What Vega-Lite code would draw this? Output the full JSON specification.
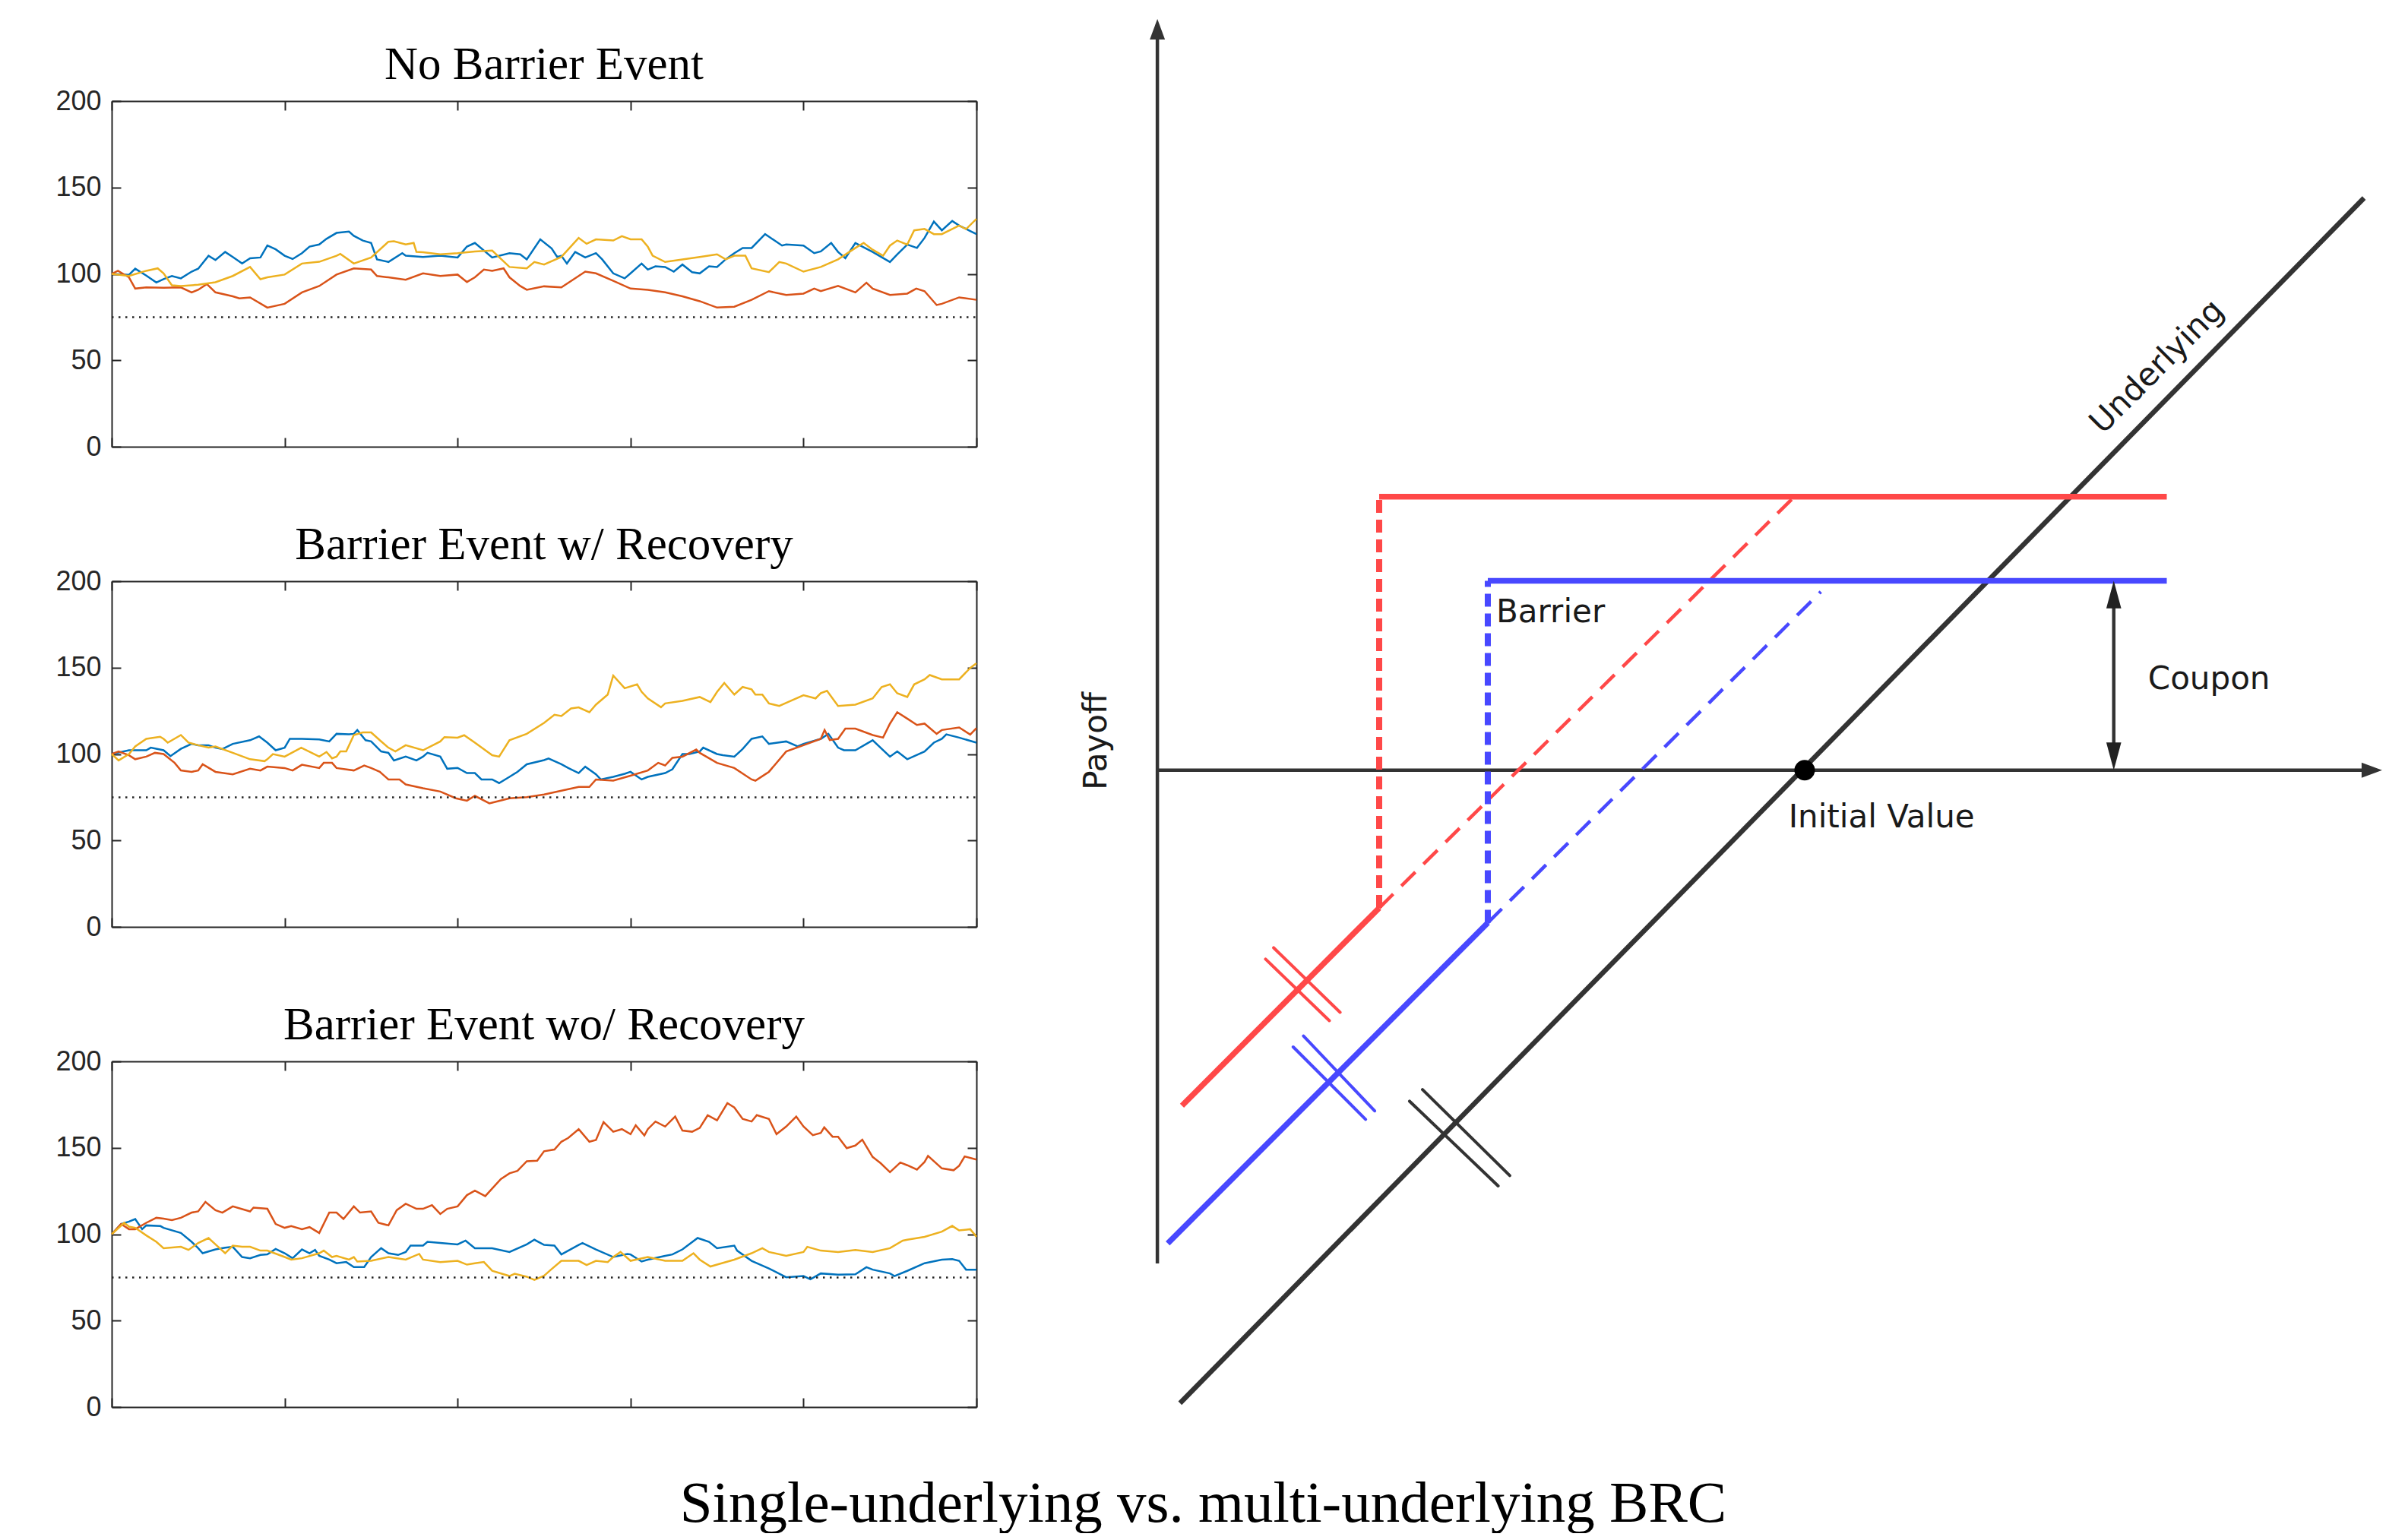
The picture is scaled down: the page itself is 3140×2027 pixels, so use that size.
{
"$schema": "https://vega.github.io/schema/vega-lite/v6.json",
"background": "white",
"padding": {"left": 72, "top": 24, "right": 0, "bottom": 0},
"bounds": "flush",
"spacing": 1274,
"title": {"text": "Single-underlying vs. multi-underlying BRC", "orient": "bottom", "anchor": "middle", "font": "Liberation Serif", "fontSize": 77, "fontWeight": "normal", "color": "#000000", "baseline": "top", "offset": 72, "dx": -23},
"datasets": {
"paths": [
{"p":1,"s":"A","t":0,"v":100},{"p":1,"s":"A","t":5,"v":99.5},{"p":1,"s":"A","t":6.8,"v":103},{"p":1,"s":"A","t":10,"v":99},{"p":1,"s":"A","t":12.9,"v":95},{"p":1,"s":"A","t":15,"v":97},{"p":1,"s":"A","t":17.4,"v":98.8},{"p":1,"s":"A","t":20,"v":97.4},{"p":1,"s":"A","t":23.1,"v":101.3},{"p":1,"s":"A","t":25,"v":103},{"p":1,"s":"A","t":28,"v":110.5},{"p":1,"s":"A","t":30,"v":108},{"p":1,"s":"A","t":32.8,"v":112.7},{"p":1,"s":"A","t":35,"v":109.8},{"p":1,"s":"A","t":37.7,"v":106},{"p":1,"s":"A","t":40,"v":109},{"p":1,"s":"A","t":43,"v":109.5},{"p":1,"s":"A","t":45,"v":116.4},{"p":1,"s":"A","t":47.4,"v":114.2},{"p":1,"s":"A","t":50,"v":110.5},{"p":1,"s":"A","t":52.3,"v":108.6},{"p":1,"s":"A","t":55,"v":112},{"p":1,"s":"A","t":57.2,"v":115.8},{"p":1,"s":"A","t":60,"v":117},{"p":1,"s":"A","t":62.1,"v":120.3},{"p":1,"s":"A","t":65,"v":123.7},{"p":1,"s":"A","t":68.6,"v":124.5},{"p":1,"s":"A","t":70,"v":122},{"p":1,"s":"A","t":72.6,"v":119.3},{"p":1,"s":"A","t":75,"v":117.9},{"p":1,"s":"A","t":76.7,"v":108.4},{"p":1,"s":"A","t":80,"v":106.9},{"p":1,"s":"A","t":84,"v":112},{"p":1,"s":"A","t":85,"v":110.5},{"p":1,"s":"A","t":90,"v":109.8},{"p":1,"s":"A","t":95,"v":110.5},{"p":1,"s":"A","t":100,"v":109.5},{"p":1,"s":"A","t":102.7,"v":115.8},{"p":1,"s":"A","t":105,"v":117.9},{"p":1,"s":"A","t":110,"v":109.5},{"p":1,"s":"A","t":115,"v":112},{"p":1,"s":"A","t":118.1,"v":111.3},{"p":1,"s":"A","t":120,"v":108.4},{"p":1,"s":"A","t":123.9,"v":120},{"p":1,"s":"A","t":127.2,"v":114.7},{"p":1,"s":"A","t":128.8,"v":109.8},{"p":1,"s":"A","t":130,"v":110.5},{"p":1,"s":"A","t":131.6,"v":106},{"p":1,"s":"A","t":134,"v":112.7},{"p":1,"s":"A","t":136.9,"v":109.5},{"p":1,"s":"A","t":140,"v":112},{"p":1,"s":"A","t":141.8,"v":108.4},{"p":1,"s":"A","t":145,"v":100.3},{"p":1,"s":"A","t":148.3,"v":97.4},{"p":1,"s":"A","t":150,"v":100.3},{"p":1,"s":"A","t":153.2,"v":106},{"p":1,"s":"A","t":155,"v":102.5},{"p":1,"s":"A","t":157.2,"v":104.4},{"p":1,"s":"A","t":160,"v":104},{"p":1,"s":"A","t":162.5,"v":101.3},{"p":1,"s":"A","t":165,"v":105.4},{"p":1,"s":"A","t":167.8,"v":101},{"p":1,"s":"A","t":170,"v":100.3},{"p":1,"s":"A","t":172.7,"v":104.4},{"p":1,"s":"A","t":175,"v":104},{"p":1,"s":"A","t":177.5,"v":108.4},{"p":1,"s":"A","t":180,"v":112},{"p":1,"s":"A","t":182.4,"v":115},{"p":1,"s":"A","t":185,"v":115},{"p":1,"s":"A","t":188.9,"v":123},{"p":1,"s":"A","t":190,"v":121.5},{"p":1,"s":"A","t":193.8,"v":116.4},{"p":1,"s":"A","t":195,"v":117},{"p":1,"s":"A","t":200,"v":116.4},{"p":1,"s":"A","t":203.1,"v":112},{"p":1,"s":"A","t":205,"v":113},{"p":1,"s":"A","t":208,"v":117.9},{"p":1,"s":"A","t":210,"v":112.7},{"p":1,"s":"A","t":212.1,"v":109.1},{"p":1,"s":"A","t":215,"v":117.9},{"p":1,"s":"A","t":220,"v":112.7},{"p":1,"s":"A","t":225,"v":106.9},{"p":1,"s":"A","t":227.1,"v":111.3},{"p":1,"s":"A","t":230,"v":117},{"p":1,"s":"A","t":232.8,"v":115},{"p":1,"s":"A","t":235,"v":120.8},{"p":1,"s":"A","t":237.7,"v":130.3},{"p":1,"s":"A","t":240,"v":125.2},{"p":1,"s":"A","t":243,"v":130.6},{"p":1,"s":"A","t":245,"v":128},{"p":1,"s":"A","t":248.2,"v":124.8},{"p":1,"s":"A","t":250,"v":123},
{"p":1,"s":"B","t":0,"v":100},{"p":1,"s":"B","t":1.8,"v":101.8},{"p":1,"s":"B","t":5,"v":98},{"p":1,"s":"B","t":6.8,"v":91.5},{"p":1,"s":"B","t":10,"v":92.2},{"p":1,"s":"B","t":15,"v":92},{"p":1,"s":"B","t":20,"v":92.2},{"p":1,"s":"B","t":23.1,"v":89.3},{"p":1,"s":"B","t":25,"v":90.8},{"p":1,"s":"B","t":27.5,"v":94.1},{"p":1,"s":"B","t":30,"v":89.3},{"p":1,"s":"B","t":35,"v":87},{"p":1,"s":"B","t":36.9,"v":85.8},{"p":1,"s":"B","t":40,"v":86.4},{"p":1,"s":"B","t":45,"v":80.5},{"p":1,"s":"B","t":50,"v":82.7},{"p":1,"s":"B","t":55,"v":89.3},{"p":1,"s":"B","t":60,"v":93},{"p":1,"s":"B","t":65,"v":99.6},{"p":1,"s":"B","t":70,"v":103.2},{"p":1,"s":"B","t":75,"v":102.5},{"p":1,"s":"B","t":76.7,"v":98.8},{"p":1,"s":"B","t":80,"v":98},{"p":1,"s":"B","t":85,"v":96.6},{"p":1,"s":"B","t":90,"v":100.3},{"p":1,"s":"B","t":95,"v":98.8},{"p":1,"s":"B","t":100,"v":99.6},{"p":1,"s":"B","t":102.7,"v":95.3},{"p":1,"s":"B","t":105,"v":98},{"p":1,"s":"B","t":107.6,"v":102.5},{"p":1,"s":"B","t":110,"v":101.8},{"p":1,"s":"B","t":113.3,"v":103.2},{"p":1,"s":"B","t":115,"v":98},{"p":1,"s":"B","t":118.1,"v":93},{"p":1,"s":"B","t":120,"v":90.8},{"p":1,"s":"B","t":125,"v":92.8},{"p":1,"s":"B","t":130,"v":92.2},{"p":1,"s":"B","t":135,"v":98.8},{"p":1,"s":"B","t":136.9,"v":101.3},{"p":1,"s":"B","t":140,"v":100.3},{"p":1,"s":"B","t":145,"v":96},{"p":1,"s":"B","t":150,"v":91.5},{"p":1,"s":"B","t":155,"v":90.8},{"p":1,"s":"B","t":160,"v":89.3},{"p":1,"s":"B","t":165,"v":87},{"p":1,"s":"B","t":170,"v":84.2},{"p":1,"s":"B","t":175,"v":80.5},{"p":1,"s":"B","t":180,"v":81},{"p":1,"s":"B","t":185,"v":85},{"p":1,"s":"B","t":190,"v":90},{"p":1,"s":"B","t":195,"v":87.8},{"p":1,"s":"B","t":200,"v":88.6},{"p":1,"s":"B","t":203.1,"v":91.5},{"p":1,"s":"B","t":205,"v":90},{"p":1,"s":"B","t":210,"v":93},{"p":1,"s":"B","t":215,"v":89.3},{"p":1,"s":"B","t":218.2,"v":94.9},{"p":1,"s":"B","t":220,"v":91.5},{"p":1,"s":"B","t":225,"v":87.8},{"p":1,"s":"B","t":230,"v":88.6},{"p":1,"s":"B","t":232.6,"v":91.5},{"p":1,"s":"B","t":235,"v":90},{"p":1,"s":"B","t":238.5,"v":82},{"p":1,"s":"B","t":240,"v":82.7},{"p":1,"s":"B","t":245,"v":86.4},{"p":1,"s":"B","t":250,"v":85},
{"p":1,"s":"C","t":0,"v":100},{"p":1,"s":"C","t":5,"v":98.8},{"p":1,"s":"C","t":10,"v":101.8},{"p":1,"s":"C","t":13.3,"v":103.2},{"p":1,"s":"C","t":15,"v":100.3},{"p":1,"s":"C","t":17.4,"v":93.4},{"p":1,"s":"C","t":20,"v":93},{"p":1,"s":"C","t":25,"v":93.7},{"p":1,"s":"C","t":30,"v":95.2},{"p":1,"s":"C","t":35,"v":98.8},{"p":1,"s":"C","t":40,"v":104},{"p":1,"s":"C","t":43,"v":96.9},{"p":1,"s":"C","t":45,"v":98},{"p":1,"s":"C","t":50,"v":99.6},{"p":1,"s":"C","t":55,"v":106},{"p":1,"s":"C","t":60,"v":107},{"p":1,"s":"C","t":65,"v":110.5},{"p":1,"s":"C","t":66.1,"v":111.6},{"p":1,"s":"C","t":70,"v":106},{"p":1,"s":"C","t":75,"v":109.5},{"p":1,"s":"C","t":80,"v":118.6},{"p":1,"s":"C","t":81.6,"v":118.9},{"p":1,"s":"C","t":85,"v":117},{"p":1,"s":"C","t":87.3,"v":117.9},{"p":1,"s":"C","t":88.1,"v":112.7},{"p":1,"s":"C","t":90,"v":112.5},{"p":1,"s":"C","t":95,"v":111.3},{"p":1,"s":"C","t":100,"v":112},{"p":1,"s":"C","t":105,"v":113},{"p":1,"s":"C","t":110,"v":113.5},{"p":1,"s":"C","t":115,"v":104},{"p":1,"s":"C","t":120,"v":103.2},{"p":1,"s":"C","t":122.2,"v":106.9},{"p":1,"s":"C","t":125,"v":105.4},{"p":1,"s":"C","t":130,"v":109.8},{"p":1,"s":"C","t":135,"v":120.8},{"p":1,"s":"C","t":137.3,"v":117.4},{"p":1,"s":"C","t":140,"v":120},{"p":1,"s":"C","t":145,"v":119.3},{"p":1,"s":"C","t":147.5,"v":121.8},{"p":1,"s":"C","t":150,"v":120},{"p":1,"s":"C","t":153.2,"v":120},{"p":1,"s":"C","t":155,"v":115.7},{"p":1,"s":"C","t":156.4,"v":110.5},{"p":1,"s":"C","t":160,"v":106.9},{"p":1,"s":"C","t":165,"v":108.4},{"p":1,"s":"C","t":170,"v":109.8},{"p":1,"s":"C","t":175,"v":111.3},{"p":1,"s":"C","t":177.5,"v":108.4},{"p":1,"s":"C","t":180,"v":110.5},{"p":1,"s":"C","t":183.2,"v":110.5},{"p":1,"s":"C","t":185,"v":103.2},{"p":1,"s":"C","t":190,"v":101},{"p":1,"s":"C","t":193,"v":106.9},{"p":1,"s":"C","t":195,"v":106},{"p":1,"s":"C","t":200,"v":101.3},{"p":1,"s":"C","t":205,"v":104},{"p":1,"s":"C","t":210,"v":108.4},{"p":1,"s":"C","t":215,"v":115},{"p":1,"s":"C","t":217.4,"v":117.9},{"p":1,"s":"C","t":220,"v":114},{"p":1,"s":"C","t":223,"v":110.5},{"p":1,"s":"C","t":225,"v":116.4},{"p":1,"s":"C","t":227.1,"v":119.3},{"p":1,"s":"C","t":230,"v":117},{"p":1,"s":"C","t":232,"v":125.2},{"p":1,"s":"C","t":235,"v":126},{"p":1,"s":"C","t":237.7,"v":123},{"p":1,"s":"C","t":240,"v":123},{"p":1,"s":"C","t":245,"v":128},{"p":1,"s":"C","t":247,"v":125.9},{"p":1,"s":"C","t":250,"v":131.8},
{"p":2,"s":"A","t":0,"v":100},{"p":2,"s":"A","t":5,"v":102.2},{"p":2,"s":"A","t":10,"v":102.2},{"p":2,"s":"A","t":11.3,"v":103.7},{"p":2,"s":"A","t":15,"v":102.2},{"p":2,"s":"A","t":17,"v":98.8},{"p":2,"s":"A","t":20,"v":103},{"p":2,"s":"A","t":23.1,"v":105.9},{"p":2,"s":"A","t":25,"v":105.1},{"p":2,"s":"A","t":28,"v":105.1},{"p":2,"s":"A","t":30,"v":103.7},{"p":2,"s":"A","t":32,"v":102.9},{"p":2,"s":"A","t":35,"v":105.9},{"p":2,"s":"A","t":40,"v":108},{"p":2,"s":"A","t":42.6,"v":110.2},{"p":2,"s":"A","t":45,"v":106.6},{"p":2,"s":"A","t":47.4,"v":102.2},{"p":2,"s":"A","t":50,"v":103.7},{"p":2,"s":"A","t":51.5,"v":108.8},{"p":2,"s":"A","t":55,"v":108.8},{"p":2,"s":"A","t":60,"v":108.5},{"p":2,"s":"A","t":62.9,"v":107.3},{"p":2,"s":"A","t":65,"v":111.7},{"p":2,"s":"A","t":68.6,"v":111.4},{"p":2,"s":"A","t":70,"v":111.7},{"p":2,"s":"A","t":71,"v":113.9},{"p":2,"s":"A","t":73.4,"v":108},{"p":2,"s":"A","t":75,"v":107.3},{"p":2,"s":"A","t":77.9,"v":101.5},{"p":2,"s":"A","t":80,"v":100.7},{"p":2,"s":"A","t":81.6,"v":96.3},{"p":2,"s":"A","t":85,"v":98.5},{"p":2,"s":"A","t":88.1,"v":96.3},{"p":2,"s":"A","t":90,"v":98.5},{"p":2,"s":"A","t":91.3,"v":100.7},{"p":2,"s":"A","t":95,"v":98.5},{"p":2,"s":"A","t":97,"v":91.5},{"p":2,"s":"A","t":100,"v":92},{"p":2,"s":"A","t":102.7,"v":89},{"p":2,"s":"A","t":105,"v":89},{"p":2,"s":"A","t":106.9,"v":85.3},{"p":2,"s":"A","t":110,"v":85.3},{"p":2,"s":"A","t":112,"v":83.2},{"p":2,"s":"A","t":115,"v":86.8},{"p":2,"s":"A","t":117.3,"v":89.7},{"p":2,"s":"A","t":120,"v":94.1},{"p":2,"s":"A","t":125,"v":96.5},{"p":2,"s":"A","t":126.3,"v":97.4},{"p":2,"s":"A","t":130,"v":94.1},{"p":2,"s":"A","t":132,"v":91.9},{"p":2,"s":"A","t":135,"v":89},{"p":2,"s":"A","t":136.9,"v":92.7},{"p":2,"s":"A","t":140,"v":88.3},{"p":2,"s":"A","t":141.4,"v":85.3},{"p":2,"s":"A","t":145,"v":86.8},{"p":2,"s":"A","t":148.3,"v":88.6},{"p":2,"s":"A","t":150,"v":89.7},{"p":2,"s":"A","t":153.2,"v":85.3},{"p":2,"s":"A","t":155,"v":86.8},{"p":2,"s":"A","t":160,"v":89},{"p":2,"s":"A","t":162.1,"v":91.2},{"p":2,"s":"A","t":165,"v":100},{"p":2,"s":"A","t":167,"v":100},{"p":2,"s":"A","t":170,"v":101.5},{"p":2,"s":"A","t":171,"v":103.7},{"p":2,"s":"A","t":175,"v":100},{"p":2,"s":"A","t":176.7,"v":99.3},{"p":2,"s":"A","t":180,"v":98.5},{"p":2,"s":"A","t":182.4,"v":102.9},{"p":2,"s":"A","t":185,"v":108.8},{"p":2,"s":"A","t":188.1,"v":110.2},{"p":2,"s":"A","t":190,"v":105.9},{"p":2,"s":"A","t":195,"v":107.3},{"p":2,"s":"A","t":198.3,"v":104.4},{"p":2,"s":"A","t":200,"v":105.9},{"p":2,"s":"A","t":205,"v":108.8},{"p":2,"s":"A","t":207.2,"v":111.7},{"p":2,"s":"A","t":210,"v":103.7},{"p":2,"s":"A","t":211.7,"v":102.2},{"p":2,"s":"A","t":215,"v":102.2},{"p":2,"s":"A","t":220,"v":108},{"p":2,"s":"A","t":225,"v":98.5},{"p":2,"s":"A","t":227.1,"v":101.5},{"p":2,"s":"A","t":230,"v":97},{"p":2,"s":"A","t":235,"v":101.5},{"p":2,"s":"A","t":237.7,"v":106.6},{"p":2,"s":"A","t":240,"v":108.8},{"p":2,"s":"A","t":241.3,"v":111.4},{"p":2,"s":"A","t":245,"v":109.5},{"p":2,"s":"A","t":250,"v":106.6},
{"p":2,"s":"B","t":0,"v":100},{"p":2,"s":"B","t":2,"v":101.5},{"p":2,"s":"B","t":5,"v":99.3},{"p":2,"s":"B","t":6.8,"v":97},{"p":2,"s":"B","t":10,"v":98.5},{"p":2,"s":"B","t":12.5,"v":100.7},{"p":2,"s":"B","t":15,"v":100},{"p":2,"s":"B","t":18.2,"v":94.9},{"p":2,"s":"B","t":20,"v":90.5},{"p":2,"s":"B","t":23.1,"v":89.7},{"p":2,"s":"B","t":25,"v":90.5},{"p":2,"s":"B","t":26.3,"v":94.1},{"p":2,"s":"B","t":30,"v":89.7},{"p":2,"s":"B","t":35,"v":88.3},{"p":2,"s":"B","t":40,"v":91.5},{"p":2,"s":"B","t":43,"v":90.5},{"p":2,"s":"B","t":45,"v":92.7},{"p":2,"s":"B","t":50,"v":91.9},{"p":2,"s":"B","t":52.3,"v":90.5},{"p":2,"s":"B","t":55,"v":93.8},{"p":2,"s":"B","t":60,"v":91.9},{"p":2,"s":"B","t":61.3,"v":94.9},{"p":2,"s":"B","t":63.7,"v":94.9},{"p":2,"s":"B","t":65,"v":91.9},{"p":2,"s":"B","t":70,"v":90.5},{"p":2,"s":"B","t":73,"v":93.4},{"p":2,"s":"B","t":75,"v":91.9},{"p":2,"s":"B","t":77.5,"v":89.7},{"p":2,"s":"B","t":80,"v":85.3},{"p":2,"s":"B","t":83.2,"v":85.3},{"p":2,"s":"B","t":85,"v":82.4},{"p":2,"s":"B","t":90,"v":80.2},{"p":2,"s":"B","t":95,"v":78.3},{"p":2,"s":"B","t":99.5,"v":74.4},{"p":2,"s":"B","t":102.7,"v":73},{"p":2,"s":"B","t":105,"v":75.8},{"p":2,"s":"B","t":109.2,"v":71.5},{"p":2,"s":"B","t":110,"v":71.9},{"p":2,"s":"B","t":115,"v":74.4},{"p":2,"s":"B","t":120,"v":75.1},{"p":2,"s":"B","t":125,"v":76.6},{"p":2,"s":"B","t":130,"v":78.8},{"p":2,"s":"B","t":135,"v":81},{"p":2,"s":"B","t":138.1,"v":81},{"p":2,"s":"B","t":140,"v":85.3},{"p":2,"s":"B","t":145,"v":84.6},{"p":2,"s":"B","t":150,"v":87.5},{"p":2,"s":"B","t":155,"v":90.5},{"p":2,"s":"B","t":158,"v":94.9},{"p":2,"s":"B","t":160,"v":93.4},{"p":2,"s":"B","t":162.1,"v":97.8},{"p":2,"s":"B","t":165,"v":98.5},{"p":2,"s":"B","t":169,"v":102.6},{"p":2,"s":"B","t":170,"v":100.7},{"p":2,"s":"B","t":175,"v":94.9},{"p":2,"s":"B","t":180,"v":91.9},{"p":2,"s":"B","t":185,"v":85.3},{"p":2,"s":"B","t":186.1,"v":84.6},{"p":2,"s":"B","t":190,"v":89.7},{"p":2,"s":"B","t":195,"v":101.5},{"p":2,"s":"B","t":200,"v":105.1},{"p":2,"s":"B","t":205,"v":108.8},{"p":2,"s":"B","t":206.1,"v":113.9},{"p":2,"s":"B","t":207.6,"v":108.1},{"p":2,"s":"B","t":210,"v":108.8},{"p":2,"s":"B","t":212.1,"v":114.7},{"p":2,"s":"B","t":215,"v":114.7},{"p":2,"s":"B","t":220,"v":111},{"p":2,"s":"B","t":223,"v":109.5},{"p":2,"s":"B","t":225,"v":117.6},{"p":2,"s":"B","t":227.1,"v":124.2},{"p":2,"s":"B","t":230,"v":120.5},{"p":2,"s":"B","t":232.8,"v":116.8},{"p":2,"s":"B","t":235,"v":117.6},{"p":2,"s":"B","t":238.5,"v":111.7},{"p":2,"s":"B","t":240,"v":113.9},{"p":2,"s":"B","t":245,"v":115.4},{"p":2,"s":"B","t":248.2,"v":111.3},{"p":2,"s":"B","t":250,"v":115},
{"p":2,"s":"C","t":0,"v":100},{"p":2,"s":"C","t":2,"v":96.3},{"p":2,"s":"C","t":5,"v":100},{"p":2,"s":"C","t":6.8,"v":104.4},{"p":2,"s":"C","t":10,"v":108.8},{"p":2,"s":"C","t":14,"v":110},{"p":2,"s":"C","t":15,"v":108.8},{"p":2,"s":"C","t":16.2,"v":106.6},{"p":2,"s":"C","t":20,"v":111},{"p":2,"s":"C","t":22.2,"v":106.6},{"p":2,"s":"C","t":25,"v":105.1},{"p":2,"s":"C","t":28,"v":103.7},{"p":2,"s":"C","t":30,"v":104.4},{"p":2,"s":"C","t":35,"v":100.7},{"p":2,"s":"C","t":40,"v":97},{"p":2,"s":"C","t":44.2,"v":95.9},{"p":2,"s":"C","t":45,"v":97},{"p":2,"s":"C","t":46.6,"v":100},{"p":2,"s":"C","t":50,"v":98.5},{"p":2,"s":"C","t":54.8,"v":103.7},{"p":2,"s":"C","t":60,"v":98.5},{"p":2,"s":"C","t":62.1,"v":101.2},{"p":2,"s":"C","t":63.7,"v":97.5},{"p":2,"s":"C","t":65,"v":98.5},{"p":2,"s":"C","t":66.1,"v":101.5},{"p":2,"s":"C","t":67.8,"v":101.5},{"p":2,"s":"C","t":70,"v":111},{"p":2,"s":"C","t":72.6,"v":112.5},{"p":2,"s":"C","t":75,"v":112.5},{"p":2,"s":"C","t":77.5,"v":108},{"p":2,"s":"C","t":80,"v":103.7},{"p":2,"s":"C","t":82,"v":101.5},{"p":2,"s":"C","t":85,"v":105.1},{"p":2,"s":"C","t":90,"v":102.2},{"p":2,"s":"C","t":95,"v":107.3},{"p":2,"s":"C","t":96.2,"v":109.8},{"p":2,"s":"C","t":100,"v":109.5},{"p":2,"s":"C","t":101.9,"v":110.9},{"p":2,"s":"C","t":105,"v":106.6},{"p":2,"s":"C","t":110,"v":99.3},{"p":2,"s":"C","t":112,"v":98.5},{"p":2,"s":"C","t":115,"v":108},{"p":2,"s":"C","t":120,"v":111.7},{"p":2,"s":"C","t":125,"v":118},{"p":2,"s":"C","t":128,"v":122.7},{"p":2,"s":"C","t":130,"v":122},{"p":2,"s":"C","t":132.8,"v":126.4},{"p":2,"s":"C","t":135,"v":127},{"p":2,"s":"C","t":138.1,"v":124.2},{"p":2,"s":"C","t":140,"v":128.6},{"p":2,"s":"C","t":143.4,"v":134.4},{"p":2,"s":"C","t":145,"v":145.4},{"p":2,"s":"C","t":148.3,"v":138.1},{"p":2,"s":"C","t":151.9,"v":140.3},{"p":2,"s":"C","t":153.2,"v":136},{"p":2,"s":"C","t":155,"v":132.2},{"p":2,"s":"C","t":158.8,"v":127.1},{"p":2,"s":"C","t":160,"v":129.3},{"p":2,"s":"C","t":165,"v":130.8},{"p":2,"s":"C","t":170,"v":133},{"p":2,"s":"C","t":173.1,"v":130},{"p":2,"s":"C","t":175,"v":135.9},{"p":2,"s":"C","t":177.1,"v":141.1},{"p":2,"s":"C","t":180,"v":134.4},{"p":2,"s":"C","t":182.4,"v":138.8},{"p":2,"s":"C","t":185,"v":137.4},{"p":2,"s":"C","t":186.1,"v":134.4},{"p":2,"s":"C","t":188.1,"v":134.4},{"p":2,"s":"C","t":190,"v":129.3},{"p":2,"s":"C","t":193,"v":127.8},{"p":2,"s":"C","t":195,"v":129.6},{"p":2,"s":"C","t":200,"v":134},{"p":2,"s":"C","t":203.5,"v":132.2},{"p":2,"s":"C","t":205,"v":135.2},{"p":2,"s":"C","t":206.8,"v":136.6},{"p":2,"s":"C","t":210,"v":127.8},{"p":2,"s":"C","t":215,"v":128.6},{"p":2,"s":"C","t":220,"v":132.2},{"p":2,"s":"C","t":222.6,"v":138.8},{"p":2,"s":"C","t":225,"v":140.3},{"p":2,"s":"C","t":227.1,"v":135.2},{"p":2,"s":"C","t":230,"v":133},{"p":2,"s":"C","t":232,"v":140.3},{"p":2,"s":"C","t":235,"v":143.2},{"p":2,"s":"C","t":236.5,"v":145.7},{"p":2,"s":"C","t":240,"v":143.2},{"p":2,"s":"C","t":245,"v":143.2},{"p":2,"s":"C","t":248.2,"v":149.8},{"p":2,"s":"C","t":250,"v":152.5},
{"p":3,"s":"A","t":0,"v":100},{"p":3,"s":"A","t":2.7,"v":105.9},{"p":3,"s":"A","t":5,"v":107.3},{"p":3,"s":"A","t":6.8,"v":108.8},{"p":3,"s":"A","t":8.8,"v":102.9},{"p":3,"s":"A","t":10,"v":105.1},{"p":3,"s":"A","t":14.1,"v":104.7},{"p":3,"s":"A","t":15,"v":103.7},{"p":3,"s":"A","t":20,"v":100.7},{"p":3,"s":"A","t":23.1,"v":95.6},{"p":3,"s":"A","t":25,"v":91.9},{"p":3,"s":"A","t":26.3,"v":89},{"p":3,"s":"A","t":30,"v":91.2},{"p":3,"s":"A","t":32.8,"v":92.2},{"p":3,"s":"A","t":35,"v":92.7},{"p":3,"s":"A","t":37.7,"v":86.8},{"p":3,"s":"A","t":40,"v":86.1},{"p":3,"s":"A","t":43,"v":88},{"p":3,"s":"A","t":45,"v":88.3},{"p":3,"s":"A","t":47.4,"v":91.5},{"p":3,"s":"A","t":50,"v":89},{"p":3,"s":"A","t":52.3,"v":86.1},{"p":3,"s":"A","t":55,"v":91.2},{"p":3,"s":"A","t":57.2,"v":89},{"p":3,"s":"A","t":58.8,"v":90.9},{"p":3,"s":"A","t":60,"v":87.5},{"p":3,"s":"A","t":62.9,"v":85.3},{"p":3,"s":"A","t":65,"v":83.2},{"p":3,"s":"A","t":67.8,"v":83.9},{"p":3,"s":"A","t":70,"v":81},{"p":3,"s":"A","t":73,"v":81},{"p":3,"s":"A","t":75,"v":86.8},{"p":3,"s":"A","t":77.9,"v":91.9},{"p":3,"s":"A","t":80,"v":89},{"p":3,"s":"A","t":82.8,"v":88},{"p":3,"s":"A","t":85,"v":89.7},{"p":3,"s":"A","t":86.4,"v":93.4},{"p":3,"s":"A","t":90,"v":93.4},{"p":3,"s":"A","t":91.3,"v":95.6},{"p":3,"s":"A","t":95,"v":94.9},{"p":3,"s":"A","t":100,"v":94.1},{"p":3,"s":"A","t":102.3,"v":96.3},{"p":3,"s":"A","t":105,"v":91.9},{"p":3,"s":"A","t":110,"v":91.9},{"p":3,"s":"A","t":115,"v":89.7},{"p":3,"s":"A","t":120,"v":94.1},{"p":3,"s":"A","t":122.2,"v":96.8},{"p":3,"s":"A","t":125,"v":93.8},{"p":3,"s":"A","t":128,"v":93.4},{"p":3,"s":"A","t":130,"v":88.3},{"p":3,"s":"A","t":135,"v":93.8},{"p":3,"s":"A","t":136.1,"v":94.9},{"p":3,"s":"A","t":140,"v":91.2},{"p":3,"s":"A","t":145,"v":86.8},{"p":3,"s":"A","t":149.1,"v":88.6},{"p":3,"s":"A","t":150,"v":88.3},{"p":3,"s":"A","t":153.2,"v":84.2},{"p":3,"s":"A","t":155,"v":85.3},{"p":3,"s":"A","t":160,"v":87.5},{"p":3,"s":"A","t":162.1,"v":88.3},{"p":3,"s":"A","t":165,"v":91.2},{"p":3,"s":"A","t":169.4,"v":97.8},{"p":3,"s":"A","t":172.7,"v":95.6},{"p":3,"s":"A","t":175,"v":91.9},{"p":3,"s":"A","t":180,"v":93.4},{"p":3,"s":"A","t":180.8,"v":90.5},{"p":3,"s":"A","t":185,"v":84.6},{"p":3,"s":"A","t":190,"v":80.2},{"p":3,"s":"A","t":195,"v":75.1},{"p":3,"s":"A","t":200,"v":75.8},{"p":3,"s":"A","t":202,"v":73.9},{"p":3,"s":"A","t":205,"v":77.3},{"p":3,"s":"A","t":210,"v":76.6},{"p":3,"s":"A","t":215,"v":76.8},{"p":3,"s":"A","t":218.2,"v":80.9},{"p":3,"s":"A","t":220,"v":79.5},{"p":3,"s":"A","t":225,"v":77.3},{"p":3,"s":"A","t":226.3,"v":75.8},{"p":3,"s":"A","t":230,"v":78.8},{"p":3,"s":"A","t":235,"v":83.2},{"p":3,"s":"A","t":240,"v":85.3},{"p":3,"s":"A","t":243,"v":85.6},{"p":3,"s":"A","t":245,"v":84.6},{"p":3,"s":"A","t":247,"v":79.5},{"p":3,"s":"A","t":250,"v":79.5},
{"p":3,"s":"B","t":0,"v":100},{"p":3,"s":"B","t":2.7,"v":105.9},{"p":3,"s":"B","t":5,"v":102.9},{"p":3,"s":"B","t":6.8,"v":102.9},{"p":3,"s":"B","t":10,"v":106.6},{"p":3,"s":"B","t":12.9,"v":109.5},{"p":3,"s":"B","t":15,"v":109},{"p":3,"s":"B","t":17.4,"v":108.1},{"p":3,"s":"B","t":20,"v":109.5},{"p":3,"s":"B","t":23.1,"v":112.5},{"p":3,"s":"B","t":25,"v":113.2},{"p":3,"s":"B","t":27.1,"v":118.7},{"p":3,"s":"B","t":30,"v":113.9},{"p":3,"s":"B","t":32,"v":112.5},{"p":3,"s":"B","t":35,"v":116.1},{"p":3,"s":"B","t":40,"v":113.2},{"p":3,"s":"B","t":41,"v":115.4},{"p":3,"s":"B","t":45,"v":114.7},{"p":3,"s":"B","t":47.4,"v":105.9},{"p":3,"s":"B","t":50,"v":103.7},{"p":3,"s":"B","t":51.9,"v":104.7},{"p":3,"s":"B","t":55,"v":102.9},{"p":3,"s":"B","t":57.2,"v":104.1},{"p":3,"s":"B","t":60,"v":100.7},{"p":3,"s":"B","t":62.9,"v":112.5},{"p":3,"s":"B","t":65,"v":112.5},{"p":3,"s":"B","t":67,"v":108.8},{"p":3,"s":"B","t":70,"v":116.1},{"p":3,"s":"B","t":71.8,"v":112.5},{"p":3,"s":"B","t":75,"v":113.2},{"p":3,"s":"B","t":77.1,"v":106.6},{"p":3,"s":"B","t":80,"v":105.1},{"p":3,"s":"B","t":82.4,"v":113.9},{"p":3,"s":"B","t":85,"v":117.6},{"p":3,"s":"B","t":88.1,"v":114.7},{"p":3,"s":"B","t":90,"v":114.7},{"p":3,"s":"B","t":92.6,"v":116.8},{"p":3,"s":"B","t":95,"v":111.7},{"p":3,"s":"B","t":97,"v":114.7},{"p":3,"s":"B","t":100,"v":116.1},{"p":3,"s":"B","t":102.7,"v":122.6},{"p":3,"s":"B","t":105,"v":125.2},{"p":3,"s":"B","t":108,"v":122},{"p":3,"s":"B","t":110,"v":126.4},{"p":3,"s":"B","t":112.5,"v":131.9},{"p":3,"s":"B","t":115,"v":135.2},{"p":3,"s":"B","t":117.3,"v":136.6},{"p":3,"s":"B","t":120,"v":142.2},{"p":3,"s":"B","t":123,"v":142.5},{"p":3,"s":"B","t":125,"v":148},{"p":3,"s":"B","t":128,"v":149},{"p":3,"s":"B","t":130,"v":153.5},{"p":3,"s":"B","t":132,"v":155.7},{"p":3,"s":"B","t":135,"v":160.8},{"p":3,"s":"B","t":138.1,"v":153.5},{"p":3,"s":"B","t":140,"v":154.5},{"p":3,"s":"B","t":142.2,"v":164.9},{"p":3,"s":"B","t":145,"v":159.3},{"p":3,"s":"B","t":147.5,"v":160.8},{"p":3,"s":"B","t":150,"v":157.9},{"p":3,"s":"B","t":151.5,"v":163},{"p":3,"s":"B","t":154,"v":157.1},{"p":3,"s":"B","t":155,"v":160.8},{"p":3,"s":"B","t":157.2,"v":165.2},{"p":3,"s":"B","t":160,"v":162.3},{"p":3,"s":"B","t":162.9,"v":168.1},{"p":3,"s":"B","t":165,"v":160},{"p":3,"s":"B","t":167.8,"v":159.3},{"p":3,"s":"B","t":170,"v":161.5},{"p":3,"s":"B","t":172.3,"v":168.8},{"p":3,"s":"B","t":175,"v":165.9},{"p":3,"s":"B","t":178,"v":175.8},{"p":3,"s":"B","t":180,"v":173.3},{"p":3,"s":"B","t":182.4,"v":166.7},{"p":3,"s":"B","t":185,"v":165.2},{"p":3,"s":"B","t":186.5,"v":168.9},{"p":3,"s":"B","t":190,"v":166.7},{"p":3,"s":"B","t":192.2,"v":157.9},{"p":3,"s":"B","t":195,"v":162.3},{"p":3,"s":"B","t":197.9,"v":168.1},{"p":3,"s":"B","t":200,"v":162.3},{"p":3,"s":"B","t":202.7,"v":157.3},{"p":3,"s":"B","t":205,"v":158.6},{"p":3,"s":"B","t":206,"v":161.8},{"p":3,"s":"B","t":208.4,"v":156.4},{"p":3,"s":"B","t":210,"v":156.4},{"p":3,"s":"B","t":212.5,"v":149.8},{"p":3,"s":"B","t":215,"v":151.3},{"p":3,"s":"B","t":217,"v":154.7},{"p":3,"s":"B","t":220,"v":144.7},{"p":3,"s":"B","t":222.3,"v":141.1},{"p":3,"s":"B","t":225,"v":135.9},{"p":3,"s":"B","t":228,"v":141.5},{"p":3,"s":"B","t":230,"v":139.9},{"p":3,"s":"B","t":232.8,"v":137.4},{"p":3,"s":"B","t":235,"v":141.8},{"p":3,"s":"B","t":236,"v":145.3},{"p":3,"s":"B","t":240,"v":138.1},{"p":3,"s":"B","t":243.4,"v":137},{"p":3,"s":"B","t":245,"v":139.6},{"p":3,"s":"B","t":246.6,"v":145},{"p":3,"s":"B","t":250,"v":143.2},
{"p":3,"s":"C","t":0,"v":100},{"p":3,"s":"C","t":3.6,"v":106.6},{"p":3,"s":"C","t":5,"v":104.4},{"p":3,"s":"C","t":6.8,"v":103.7},{"p":3,"s":"C","t":10,"v":99.3},{"p":3,"s":"C","t":12.9,"v":95.6},{"p":3,"s":"C","t":15,"v":91.9},{"p":3,"s":"C","t":20,"v":92.7},{"p":3,"s":"C","t":22.2,"v":90.9},{"p":3,"s":"C","t":25,"v":94.9},{"p":3,"s":"C","t":28,"v":97.8},{"p":3,"s":"C","t":30,"v":94.1},{"p":3,"s":"C","t":32.8,"v":89},{"p":3,"s":"C","t":35,"v":93.4},{"p":3,"s":"C","t":37.7,"v":92.7},{"p":3,"s":"C","t":40,"v":92.7},{"p":3,"s":"C","t":43,"v":90.5},{"p":3,"s":"C","t":45,"v":90.5},{"p":3,"s":"C","t":50,"v":86.8},{"p":3,"s":"C","t":51.9,"v":85.3},{"p":3,"s":"C","t":55,"v":86.1},{"p":3,"s":"C","t":60,"v":89},{"p":3,"s":"C","t":61.3,"v":90.5},{"p":3,"s":"C","t":63.7,"v":86.8},{"p":3,"s":"C","t":65,"v":87.5},{"p":3,"s":"C","t":68.6,"v":85.3},{"p":3,"s":"C","t":70,"v":86.8},{"p":3,"s":"C","t":71,"v":84.2},{"p":3,"s":"C","t":75,"v":84.6},{"p":3,"s":"C","t":80,"v":86.8},{"p":3,"s":"C","t":85,"v":85.3},{"p":3,"s":"C","t":88.9,"v":88.6},{"p":3,"s":"C","t":90,"v":85.3},{"p":3,"s":"C","t":95,"v":83.9},{"p":3,"s":"C","t":100,"v":84.6},{"p":3,"s":"C","t":102.7,"v":82.4},{"p":3,"s":"C","t":105,"v":83.2},{"p":3,"s":"C","t":107.6,"v":83.9},{"p":3,"s":"C","t":110,"v":78.8},{"p":3,"s":"C","t":115,"v":75.8},{"p":3,"s":"C","t":116.5,"v":77.1},{"p":3,"s":"C","t":120,"v":75.4},{"p":3,"s":"C","t":122.2,"v":73.6},{"p":3,"s":"C","t":125,"v":76},{"p":3,"s":"C","t":127,"v":79.5},{"p":3,"s":"C","t":130,"v":84.6},{"p":3,"s":"C","t":135,"v":84.6},{"p":3,"s":"C","t":137.3,"v":82.1},{"p":3,"s":"C","t":140,"v":84.6},{"p":3,"s":"C","t":143.4,"v":83.9},{"p":3,"s":"C","t":145,"v":86.8},{"p":3,"s":"C","t":147.1,"v":89.7},{"p":3,"s":"C","t":150,"v":84.6},{"p":3,"s":"C","t":155,"v":86.8},{"p":3,"s":"C","t":160,"v":84.6},{"p":3,"s":"C","t":165,"v":84.6},{"p":3,"s":"C","t":168.2,"v":89},{"p":3,"s":"C","t":170,"v":85.3},{"p":3,"s":"C","t":173.1,"v":81.3},{"p":3,"s":"C","t":175,"v":82.4},{"p":3,"s":"C","t":180,"v":85.3},{"p":3,"s":"C","t":185,"v":89},{"p":3,"s":"C","t":188.1,"v":91.9},{"p":3,"s":"C","t":190,"v":89.7},{"p":3,"s":"C","t":195,"v":87.5},{"p":3,"s":"C","t":200,"v":89.7},{"p":3,"s":"C","t":201.1,"v":92.7},{"p":3,"s":"C","t":205,"v":90.5},{"p":3,"s":"C","t":210,"v":89.7},{"p":3,"s":"C","t":215,"v":90.9},{"p":3,"s":"C","t":220,"v":89.7},{"p":3,"s":"C","t":225,"v":91.9},{"p":3,"s":"C","t":228.7,"v":96.3},{"p":3,"s":"C","t":230,"v":96.8},{"p":3,"s":"C","t":235,"v":98.5},{"p":3,"s":"C","t":240,"v":101.5},{"p":3,"s":"C","t":243,"v":104.8},{"p":3,"s":"C","t":245,"v":102.2},{"p":3,"s":"C","t":248.2,"v":102.9},{"p":3,"s":"C","t":250,"v":98.5}
],
"segs": [
{"k":"axis","c":"black","x1":0,"y1":-76.3,"x2":0,"y2":114},
{"k":"axis","c":"black","x1":0,"y1":0,"x2":187.5,"y2":0},
{"k":"under","c":"black","x1":3.5,"y1":-97.9,"x2":186.6,"y2":88.5},
{"k":"solid","c":"red","x1":3.8,"y1":-51.9,"x2":34.3,"y2":-21.3},
{"k":"solid","c":"red","x1":34.3,"y1":42.3,"x2":156.1,"y2":42.3},
{"k":"vdash","c":"red","x1":34.3,"y1":-21.3,"x2":34.3,"y2":42.3},
{"k":"ddash","c":"red","x1":34.3,"y1":-21.3,"x2":98.5,"y2":42.3},
{"k":"solid","c":"blue","x1":1.6,"y1":-73.2,"x2":51.1,"y2":-23.6},
{"k":"solid","c":"blue","x1":51.1,"y1":29.3,"x2":156.1,"y2":29.3},
{"k":"vdash","c":"blue","x1":51.1,"y1":-23.6,"x2":51.1,"y2":29.3},
{"k":"ddash","c":"blue","x1":51.1,"y1":-23.6,"x2":102.6,"y2":27.6},
{"k":"hash","c":"red","x1":17.98,"y1":-27.46,"x2":28.26,"y2":-37.45},
{"k":"hash","c":"red","x1":16.73,"y1":-29.22,"x2":26.6,"y2":-38.74},
{"k":"hash","c":"blue","x1":22.6,"y1":-41.1,"x2":33.6,"y2":-52.7},
{"k":"hash","c":"blue","x1":21.0,"y1":-42.8,"x2":32.2,"y2":-54.0},
{"k":"hash","c":"black","x1":41.0,"y1":-49.4,"x2":54.5,"y2":-62.7},
{"k":"hash","c":"black","x1":39.0,"y1":-51.2,"x2":52.7,"y2":-64.3},
{"k":"coupon","c":"black","x1":147.9,"y1":2,"x2":147.9,"y2":27}
],
"pts": [
{"k":"axisarrow","d":"up","x":0,"y":116.2},
{"k":"axisarrow","d":"right","x":189.4,"y":0},
{"k":"couponarrow","d":"cup","x":147.9,"y":29.3},
{"k":"couponarrow","d":"cdown","x":147.9,"y":0},
{"k":"dot","d":"dot","x":100.1,"y":0}
],
"labels": [
{"label":"Underlying","x":154.6,"y":62.4},
{"label":"Barrier","x":52.4,"y":24.4},
{"label":"Coupon","x":153.2,"y":14.1},
{"label":"Initial Value","x":97.6,"y":-7.3},
{"label":"Payoff","x":-9.4,"y":4.5}
]
},
"hconcat": [
{
"bounds": "flush",
"spacing": 177,
"vconcat": [
{
"title": {"text": "No Barrier Event"},
"width": 1138, "height": 455,
"layer": [
{"data": {"name": "paths"}, "transform": [{"filter": "datum.p == 1"}],
 "mark": {"type": "line", "strokeWidth": 2.5},
 "encoding": {
  "x": {"field": "t", "type": "quantitative", "scale": {"domain": [0, 250], "nice": false, "zero": false}, "axis": {"orient": "bottom", "values": [0, 50, 100, 150, 200, 250], "labels": false, "title": null}},
  "y": {"field": "v", "type": "quantitative", "scale": {"domain": [0, 200], "nice": false}, "axis": {"orient": "left", "values": [0, 50, 100, 150, 200], "title": null}},
  "color": {"field": "s", "type": "nominal", "scale": {"domain": ["A", "B", "C"], "range": ["#0072BD", "#D95319", "#EDB120"]}, "legend": null}
 }},
{"data": {"values": [{"b": 75}]},
 "mark": {"type": "rule", "strokeDash": [2.5, 6.5], "strokeWidth": 2.5, "color": "#262626"},
 "encoding": {
  "x": {"datum": 0, "type": "quantitative", "scale": {"domain": [0, 250], "nice": false, "zero": false}, "axis": {"orient": "top", "values": [0, 50, 100, 150, 200, 250], "labels": false, "title": null}},
  "x2": {"datum": 250},
  "y": {"field": "b", "type": "quantitative", "scale": {"domain": [0, 200], "nice": false}, "axis": {"orient": "right", "values": [0, 50, 100, 150, 200], "labels": false, "title": null}}
 }}
],
"resolve": {"axis": {"x": "independent", "y": "independent"}}
},
{
"title": {"text": "Barrier Event w/ Recovery"},
"width": 1138, "height": 455,
"layer": [
{"data": {"name": "paths"}, "transform": [{"filter": "datum.p == 2"}],
 "mark": {"type": "line", "strokeWidth": 2.5},
 "encoding": {
  "x": {"field": "t", "type": "quantitative", "scale": {"domain": [0, 250], "nice": false, "zero": false}, "axis": {"orient": "bottom", "values": [0, 50, 100, 150, 200, 250], "labels": false, "title": null}},
  "y": {"field": "v", "type": "quantitative", "scale": {"domain": [0, 200], "nice": false}, "axis": {"orient": "left", "values": [0, 50, 100, 150, 200], "title": null}},
  "color": {"field": "s", "type": "nominal", "scale": {"domain": ["A", "B", "C"], "range": ["#0072BD", "#D95319", "#EDB120"]}, "legend": null}
 }},
{"data": {"values": [{"b": 75}]},
 "mark": {"type": "rule", "strokeDash": [2.5, 6.5], "strokeWidth": 2.5, "color": "#262626"},
 "encoding": {
  "x": {"datum": 0, "type": "quantitative", "scale": {"domain": [0, 250], "nice": false, "zero": false}, "axis": {"orient": "top", "values": [0, 50, 100, 150, 200, 250], "labels": false, "title": null}},
  "x2": {"datum": 250},
  "y": {"field": "b", "type": "quantitative", "scale": {"domain": [0, 200], "nice": false}, "axis": {"orient": "right", "values": [0, 50, 100, 150, 200], "labels": false, "title": null}}
 }}
],
"resolve": {"axis": {"x": "independent", "y": "independent"}}
},
{
"title": {"text": "Barrier Event wo/ Recovery"},
"width": 1138, "height": 455,
"layer": [
{"data": {"name": "paths"}, "transform": [{"filter": "datum.p == 3"}],
 "mark": {"type": "line", "strokeWidth": 2.5},
 "encoding": {
  "x": {"field": "t", "type": "quantitative", "scale": {"domain": [0, 250], "nice": false, "zero": false}, "axis": {"orient": "bottom", "values": [0, 50, 100, 150, 200, 250], "labels": false, "title": null}},
  "y": {"field": "v", "type": "quantitative", "scale": {"domain": [0, 200], "nice": false}, "axis": {"orient": "left", "values": [0, 50, 100, 150, 200], "title": null}},
  "color": {"field": "s", "type": "nominal", "scale": {"domain": ["A", "B", "C"], "range": ["#0072BD", "#D95319", "#EDB120"]}, "legend": null}
 }},
{"data": {"values": [{"b": 75}]},
 "mark": {"type": "rule", "strokeDash": [2.5, 6.5], "strokeWidth": 2.5, "color": "#262626"},
 "encoding": {
  "x": {"datum": 0, "type": "quantitative", "scale": {"domain": [0, 250], "nice": false, "zero": false}, "axis": {"orient": "top", "values": [0, 50, 100, 150, 200, 250], "labels": false, "title": null}},
  "x2": {"datum": 250},
  "y": {"field": "b", "type": "quantitative", "scale": {"domain": [0, 200], "nice": false}, "axis": {"orient": "right", "values": [0, 50, 100, 150, 200], "labels": false, "title": null}}
 }}
],
"resolve": {"axis": {"x": "independent", "y": "independent"}}
}
],
"resolve": {"scale": {"x": "independent", "y": "independent"}}
},
{
"width": 1719, "height": 1719,
"layer": [
{"data": {"name": "segs"}, "transform": [{"filter": "datum.k == 'axis'"}],
 "mark": {"type": "rule", "strokeWidth": 4.5},
 "encoding": {
  "x": {"field": "x1", "type": "quantitative", "scale": {"domain": [-12, 190], "nice": false, "zero": false}, "axis": null},
  "y": {"field": "y1", "type": "quantitative", "scale": {"domain": [-98.5, 103.5], "nice": false, "zero": false}, "axis": null},
  "x2": {"field": "x2"}, "y2": {"field": "y2"},
  "color": {"field": "c", "type": "nominal", "scale": {"domain": ["red", "blue", "black"], "range": ["#ff4848", "#4848ff", "#333333"]}, "legend": null}
 }},
{"data": {"name": "segs"}, "transform": [{"filter": "datum.k == 'under'"}],
 "mark": {"type": "rule", "strokeWidth": 6.5},
 "encoding": {
  "x": {"field": "x1", "type": "quantitative", "axis": null}, "y": {"field": "y1", "type": "quantitative", "axis": null},
  "x2": {"field": "x2"}, "y2": {"field": "y2"},
  "color": {"field": "c", "type": "nominal", "legend": null}
 }},
{"data": {"name": "segs"}, "transform": [{"filter": "datum.k == 'ddash'"}],
 "mark": {"type": "rule", "strokeWidth": 4.5, "strokeDash": [26, 15]},
 "encoding": {
  "x": {"field": "x1", "type": "quantitative", "axis": null}, "y": {"field": "y1", "type": "quantitative", "axis": null},
  "x2": {"field": "x2"}, "y2": {"field": "y2"},
  "color": {"field": "c", "type": "nominal", "legend": null}
 }},
{"data": {"name": "segs"}, "transform": [{"filter": "datum.k == 'vdash'"}],
 "mark": {"type": "rule", "strokeWidth": 8, "strokeDash": [17, 9]},
 "encoding": {
  "x": {"field": "x1", "type": "quantitative", "axis": null}, "y": {"field": "y1", "type": "quantitative", "axis": null},
  "x2": {"field": "x2"}, "y2": {"field": "y2"},
  "color": {"field": "c", "type": "nominal", "legend": null}
 }},
{"data": {"name": "segs"}, "transform": [{"filter": "datum.k == 'solid'"}],
 "mark": {"type": "rule", "strokeWidth": 7.5},
 "encoding": {
  "x": {"field": "x1", "type": "quantitative", "axis": null}, "y": {"field": "y1", "type": "quantitative", "axis": null},
  "x2": {"field": "x2"}, "y2": {"field": "y2"},
  "color": {"field": "c", "type": "nominal", "legend": null}
 }},
{"data": {"name": "segs"}, "transform": [{"filter": "datum.k == 'hash'"}],
 "mark": {"type": "rule", "strokeWidth": 4, "strokeCap": "round"},
 "encoding": {
  "x": {"field": "x1", "type": "quantitative", "axis": null}, "y": {"field": "y1", "type": "quantitative", "axis": null},
  "x2": {"field": "x2"}, "y2": {"field": "y2"},
  "color": {"field": "c", "type": "nominal", "legend": null}
 }},
{"data": {"name": "segs"}, "transform": [{"filter": "datum.k == 'coupon'"}],
 "mark": {"type": "rule", "strokeWidth": 4.5},
 "encoding": {
  "x": {"field": "x1", "type": "quantitative", "axis": null}, "y": {"field": "y1", "type": "quantitative", "axis": null},
  "x2": {"field": "x2"}, "y2": {"field": "y2"},
  "color": {"field": "c", "type": "nominal", "legend": null}
 }},
{"data": {"name": "pts"}, "transform": [{"filter": "datum.k == 'axisarrow'"}],
 "mark": {"type": "point", "filled": true, "opacity": 1, "size": 2916, "color": "#333333"},
 "encoding": {
  "x": {"field": "x", "type": "quantitative", "axis": null}, "y": {"field": "y", "type": "quantitative", "axis": null},
  "shape": {"field": "d", "type": "nominal", "scale": {"domain": ["up", "right", "cup", "cdown", "dot"], "range": ["M0,0L-0.37,1L0.37,1Z", "M0,0L-1,-0.37L-1,0.37Z", "M0,0L-0.27,1L0.27,1Z", "M0,0L-0.27,-1L0.27,-1Z", "circle"]}, "legend": null}
 }},
{"data": {"name": "pts"}, "transform": [{"filter": "datum.k == 'couponarrow'"}],
 "mark": {"type": "point", "filled": true, "opacity": 1, "size": 5300, "color": "#222222"},
 "encoding": {
  "x": {"field": "x", "type": "quantitative", "axis": null}, "y": {"field": "y", "type": "quantitative", "axis": null},
  "shape": {"field": "d", "type": "nominal", "legend": null}
 }},
{"data": {"name": "pts"}, "transform": [{"filter": "datum.k == 'dot'"}],
 "mark": {"type": "point", "filled": true, "opacity": 1, "size": 730, "color": "#000000"},
 "encoding": {
  "x": {"field": "x", "type": "quantitative", "axis": null}, "y": {"field": "y", "type": "quantitative", "axis": null},
  "shape": {"field": "d", "type": "nominal", "legend": null}
 }},
{"data": {"name": "labels"}, "transform": [{"filter": "datum.label == 'Barrier' || datum.label == 'Coupon' || datum.label == 'Initial Value'"}],
 "mark": {"type": "text", "font": "DejaVu Sans", "fontSize": 42, "align": "left", "baseline": "middle", "color": "#1a1a1a"},
 "encoding": {
  "x": {"field": "x", "type": "quantitative", "axis": null}, "y": {"field": "y", "type": "quantitative", "axis": null},
  "text": {"field": "label"}
 }},
{"data": {"name": "labels"}, "transform": [{"filter": "datum.label == 'Underlying'"}],
 "mark": {"type": "text", "font": "DejaVu Sans", "fontSize": 42, "align": "center", "baseline": "middle", "angle": -45, "color": "#1a1a1a"},
 "encoding": {
  "x": {"field": "x", "type": "quantitative", "axis": null}, "y": {"field": "y", "type": "quantitative", "axis": null},
  "text": {"field": "label"}
 }},
{"data": {"name": "labels"}, "transform": [{"filter": "datum.label == 'Payoff'"}],
 "mark": {"type": "text", "font": "DejaVu Sans", "fontSize": 42, "align": "center", "baseline": "middle", "angle": -90, "color": "#1a1a1a"},
 "encoding": {
  "x": {"field": "x", "type": "quantitative", "axis": null}, "y": {"field": "y", "type": "quantitative", "axis": null},
  "text": {"field": "label"}
 }}
]
}
],
"resolve": {"scale": {"x": "independent", "y": "independent", "color": "independent", "shape": "independent"}},
"config": {
 "view": {"stroke": null},
 "axis": {"domainColor": "#262626", "domainWidth": 2, "tickColor": "#262626", "tickWidth": 2, "tickSize": -12, "labelPadding": 26, "labelFont": "Liberation Sans", "labelFontSize": 36, "labelColor": "#262626", "grid": false},
 "title": {"font": "Liberation Serif", "fontSize": 61, "fontWeight": "normal", "color": "#000000", "baseline": "alphabetic", "offset": -2}
}
}
